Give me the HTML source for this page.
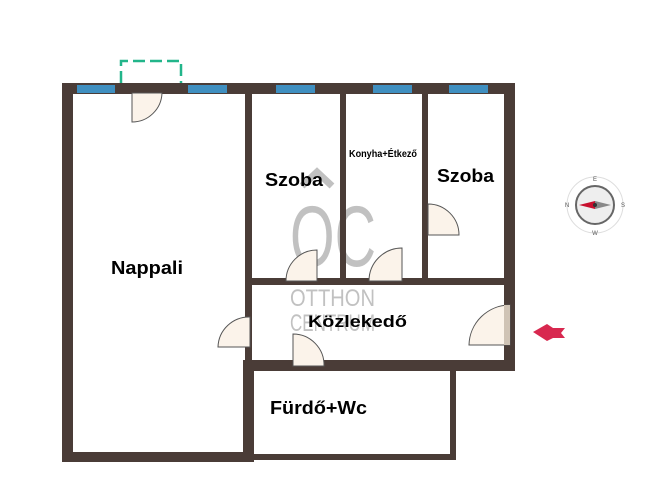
<!DOCTYPE html>
<html><head><style>
body{margin:0;background:#fff;}
svg{display:block;font-family:"Liberation Sans",sans-serif;}
</style></head><body>
<svg width="666" height="500" viewBox="0 0 666 500">
<!-- watermark -->
<g fill="#999" opacity="0.6">
<text x="290" y="266" font-size="86" textLength="86" lengthAdjust="spacingAndGlyphs">OC</text>
<text x="290" y="306" font-size="24" textLength="85" lengthAdjust="spacingAndGlyphs">OTTHON</text>
<text x="290" y="331" font-size="24" textLength="85" lengthAdjust="spacingAndGlyphs">CENTRUM</text>
<path d="M302 186 L317 172 L332 186" stroke="#999" stroke-width="7" fill="none"/>
</g>
<g fill="#4a3c37">
<rect x="62" y="83" width="453" height="11"/>
<rect x="62" y="83" width="11" height="379"/>
<rect x="504" y="83" width="11" height="288"/>
<rect x="62" y="452" width="192" height="10"/>
<rect x="245" y="83" width="7" height="202"/>
<rect x="340" y="83" width="6" height="202"/>
<rect x="422" y="83" width="6" height="202"/>
<rect x="245" y="278" width="270" height="7"/>
<rect x="245" y="278" width="7" height="90"/>
<rect x="243" y="360" width="272" height="11"/>
<rect x="243" y="360" width="11" height="102"/>
<rect x="450" y="360" width="6" height="100"/>
<rect x="243" y="454" width="213" height="6"/>
</g>
<g fill="#3f8fc0">
<rect x="77" y="85" width="38" height="8"/>
<rect x="188" y="85" width="39" height="8"/>
<rect x="276" y="85" width="39" height="8"/>
<rect x="373" y="85" width="39" height="8"/>
<rect x="449" y="85" width="39" height="8"/>
</g>
<path d="M121 83 V61 H181 V83" fill="none" stroke="#22b58a" stroke-width="2.5" stroke-dasharray="12 5"/>
<g fill="#fbf3ea" stroke="#555" stroke-width="1">
<path d="M132 93 V122 A30 30 0 0 0 162 93 Z"/>
<path d="M317 281 V250 A31 31 0 0 0 286 281 Z"/>
<path d="M402 281 V248 A33 33 0 0 0 369 281 Z"/>
<path d="M428 235 V204 A31 31 0 0 1 459 235 Z"/>
<path d="M250 347 V317 A31 31 0 0 0 218 347 Z"/>
<path d="M293 366 V334 A31 31 0 0 1 324 366 Z"/>
<path d="M510 345 V305 A41 41 0 0 0 469 345 Z"/>
</g>
<rect x="504" y="305" width="6" height="40" fill="#cfc3b5"/>
<g font-weight="bold" fill="#000" lengthAdjust="spacingAndGlyphs">
<text x="111" y="274" font-size="18" textLength="72" lengthAdjust="spacingAndGlyphs">Nappali</text>
<text x="265" y="186" font-size="18" textLength="58" lengthAdjust="spacingAndGlyphs">Szoba</text>
<text x="349" y="157" font-size="10" textLength="68" lengthAdjust="spacingAndGlyphs">Konyha+Étkező</text>
<text x="437" y="182" font-size="18" textLength="57" lengthAdjust="spacingAndGlyphs">Szoba</text>
<text x="308" y="327" font-size="17" textLength="99" lengthAdjust="spacingAndGlyphs">Közlekedő</text>
<text x="270" y="414" font-size="18" textLength="97" lengthAdjust="spacingAndGlyphs">Fürdő+Wc</text>
</g>
<path d="M533 332 L547 324 L553 328 L565 328 L561 333 L565 338 L553 338 L547 341 Z" fill="#d8284f"/>
<!-- compass -->
<g transform="translate(595,205)">
<circle r="28" fill="#fff" stroke="#ddd"/>
<circle r="19" fill="#eee" stroke="#666" stroke-width="2"/>
<path d="M-16 0 L0 -4 L0 4 Z" fill="#c8102e"/>
<path d="M16 0 L0 -4 L0 4 Z" fill="#888"/>
<circle r="2" fill="#333"/>
<g font-size="6" fill="#555" text-anchor="middle">
<text x="-28" y="2">N</text><text x="28" y="2">S</text><text x="0" y="-24">E</text><text x="0" y="30">W</text>
</g>
</g>
</svg>
</body></html>
